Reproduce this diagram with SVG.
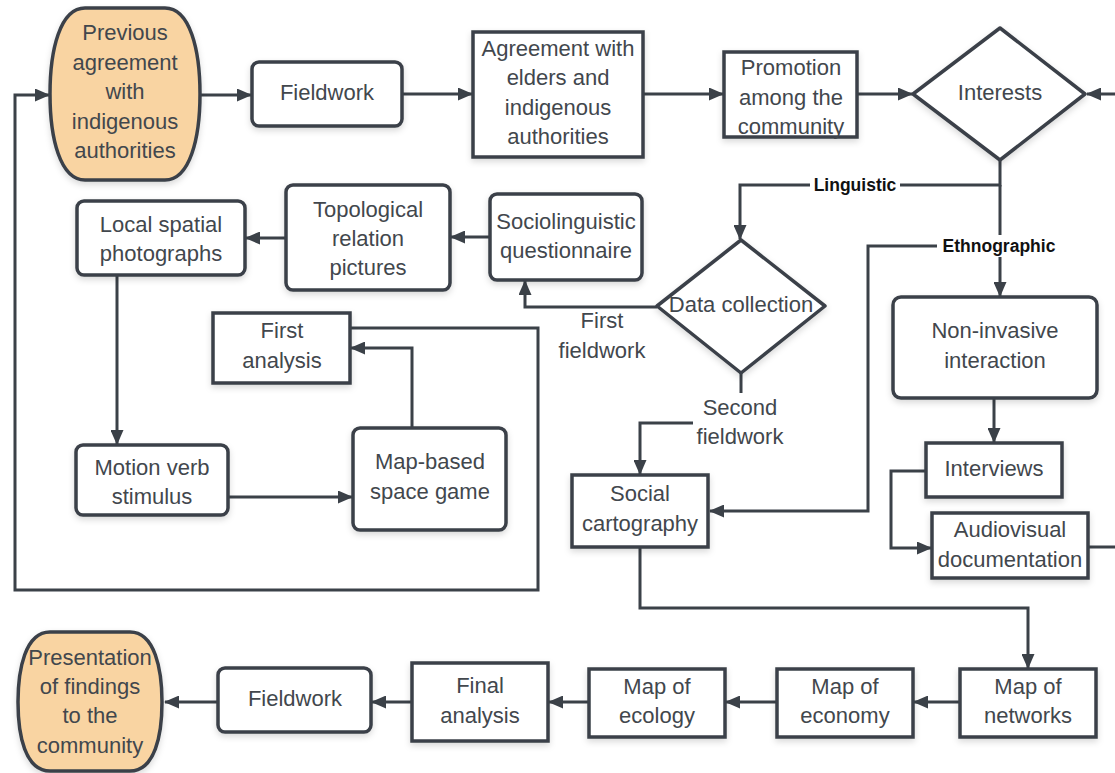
<svg xmlns="http://www.w3.org/2000/svg" width="1115" height="773" viewBox="0 0 1115 773">
<defs>
<marker id="ah" markerUnits="userSpaceOnUse" markerWidth="15" markerHeight="13" refX="14" refY="6.5" orient="auto">
<path d="M0,0 L15,6.5 L0,13 Z" fill="#3b4148"/>
</marker>
<filter id="sh" x="-10%" y="-10%" width="130%" height="140%">
<feDropShadow dx="0" dy="3" stdDeviation="3" flood-color="#000" flood-opacity="0.15"/>
</filter>
<style>
.n{fill:#fff;stroke:#3b4148;stroke-width:3.5;filter:url(#sh)}
.o{fill:#f9d4a2;stroke:#3b4148;stroke-width:3.5;filter:url(#sh)}
.t{font-family:"Liberation Sans",Arial,sans-serif;font-size:22px;fill:#42474d;text-anchor:middle}
.b{font-family:"Liberation Sans",Arial,sans-serif;font-size:17.5px;font-weight:bold;fill:#111;text-anchor:middle}
.c{fill:none;stroke:#3b4148;stroke-width:3}
.a{marker-end:url(#ah)}
</style>
</defs>
<rect width="1115" height="773" fill="#fff"/>

<g id="connectors">
<path class="c a" d="M200,95 L251,95"/>
<path class="c a" d="M402,94 L472,94"/>
<path class="c a" d="M644,94 L723,94"/>
<path class="c a" d="M858,94 L912,94"/>
<path class="c a" d="M1088,547 L1130,547 L1130,94 L1087,94"/>
<path class="c a" d="M1000,160 L1000,185 L740,185 L740,239"/>
<path class="c a" d="M1000,185 L1000,296"/>
<path class="c a" d="M1000,246 L868,246 L868,511 L710,511"/>
<path class="c a" d="M657,307 L525,307 L525,281"/>
<path class="c" d="M741,373 L741,393"/>
<path class="c a" d="M693,423 L640,423 L640,474"/>
<path class="c a" d="M490,237 L451,237"/>
<path class="c a" d="M286,238 L246,238"/>
<path class="c a" d="M117,275 L117,444"/>
<path class="c a" d="M228,497 L352,497"/>
<path class="c a" d="M412,428 L412,348 L351,348"/>
<path class="c a" d="M350,328 L538,328 L538,590 L15,590 L15,95 L49,95"/>
<path class="c a" d="M994,398 L994,442"/>
<path class="c a" d="M926,471 L891,471 L891,548 L931,548"/>
<path class="c a" d="M640,547 L640,608 L1028,608 L1028,668"/>
<path class="c a" d="M960,702 L914,702"/>
<path class="c a" d="M777,702 L726,702"/>
<path class="c a" d="M588,702 L549,702"/>
<path class="c a" d="M412,702 L372,702"/>
<path class="c a" d="M218,702 L165,702"/>
<rect x="810" y="174" width="90" height="22" fill="#fff"/>
<text class="b" x="855" y="191">Linguistic</text>
<rect x="937" y="235" width="124" height="22" fill="#fff"/>
<text class="b" x="999" y="252">Ethnographic</text>
<text class="t" x="602" y="328">First</text>
<text class="t" x="602" y="358">fieldwork</text>
<text class="t" x="740" y="415">Second</text>
<text class="t" x="740" y="444">fieldwork</text>
</g>

<g id="prev-agreement">
<path class="o" d="M85,8 L165,8 C190,8 200,50 200,94 C200,138 190,180 165,180 L85,180 C60,180 50,138 50,94 C50,50 60,8 85,8 Z"/>
<text class="t" x="125" y="40">Previous</text>
<text class="t" x="125" y="70">agreement</text>
<text class="t" x="125" y="99">with</text>
<text class="t" x="125" y="129">indigenous</text>
<text class="t" x="125" y="158">authorities</text>
</g>

<g id="fieldwork-top">
<rect class="n" x="252" y="62" width="150" height="64" rx="7"/>
<text class="t" x="327" y="100">Fieldwork</text>
</g>

<g id="agreement-elders">
<rect class="n" x="473" y="32" width="170" height="125"/>
<text class="t" x="558" y="56">Agreement with</text>
<text class="t" x="558" y="85">elders and</text>
<text class="t" x="558" y="115">indigenous</text>
<text class="t" x="558" y="144">authorities</text>
</g>

<g id="promotion">
<rect class="n" x="724" y="52" width="133" height="85"/>
<text class="t" x="791" y="75">Promotion</text>
<text class="t" x="791" y="105">among the</text>
<text class="t" x="791" y="134">community</text>
</g>

<g id="interests">
<path class="n" stroke-linejoin="round" d="M1000,28 L1085,94 L1000,160 L913,94 Z"/>
<text class="t" x="1000" y="100">Interests</text>
</g>

<g id="local-spatial">
<rect class="n" x="77" y="201" width="168" height="74" rx="7"/>
<text class="t" x="161" y="232">Local spatial</text>
<text class="t" x="161" y="261">photographs</text>
</g>

<g id="topological">
<rect class="n" x="286" y="185" width="164" height="105" rx="7"/>
<text class="t" x="368" y="217">Topological</text>
<text class="t" x="368" y="246">relation</text>
<text class="t" x="368" y="275">pictures</text>
</g>

<g id="sociolinguistic">
<rect class="n" x="490" y="194" width="152" height="86" rx="7"/>
<text class="t" x="566" y="229">Sociolinguistic</text>
<text class="t" x="566" y="258">questionnaire</text>
</g>

<g id="data-collection">
<path class="n" stroke-linejoin="round" d="M741,240 L825,306 L741,373 L657,306 Z"/>
<text class="t" x="741" y="312">Data collection</text>
</g>

<g id="first-analysis">
<rect class="n" x="213" y="313" width="137" height="70"/>
<text class="t" x="282" y="338">First</text>
<text class="t" x="282" y="368">analysis</text>
</g>

<g id="motion-verb">
<rect class="n" x="76" y="445" width="152" height="70" rx="7"/>
<text class="t" x="152" y="475">Motion verb</text>
<text class="t" x="152" y="504">stimulus</text>
</g>

<g id="map-based">
<rect class="n" x="353" y="428" width="153" height="102" rx="7"/>
<text class="t" x="430" y="469">Map-based</text>
<text class="t" x="430" y="499">space game</text>
</g>

<g id="non-invasive">
<rect class="n" x="893" y="297" width="204" height="101" rx="8"/>
<text class="t" x="995" y="338">Non-invasive</text>
<text class="t" x="995" y="368">interaction</text>
</g>

<g id="interviews">
<rect class="n" x="926" y="443" width="136" height="54"/>
<text class="t" x="994" y="476">Interviews</text>
</g>

<g id="audiovisual">
<rect class="n" x="932" y="513" width="156" height="65"/>
<text class="t" x="1010" y="537">Audiovisual</text>
<text class="t" x="1010" y="567">documentation</text>
</g>

<g id="social-cartography">
<rect class="n" x="572" y="475" width="136" height="72"/>
<text class="t" x="640" y="501">Social</text>
<text class="t" x="640" y="531">cartography</text>
</g>

<g id="map-networks">
<rect class="n" x="960" y="669" width="136" height="68"/>
<text class="t" x="1028" y="694">Map of</text>
<text class="t" x="1028" y="723">networks</text>
</g>

<g id="map-economy">
<rect class="n" x="777" y="669" width="136" height="68"/>
<text class="t" x="845" y="694">Map of</text>
<text class="t" x="845" y="723">economy</text>
</g>

<g id="map-ecology">
<rect class="n" x="589" y="669" width="136" height="68"/>
<text class="t" x="657" y="694">Map of</text>
<text class="t" x="657" y="723">ecology</text>
</g>

<g id="final-analysis">
<rect class="n" x="412" y="663" width="136" height="78"/>
<text class="t" x="480" y="693">Final</text>
<text class="t" x="480" y="723">analysis</text>
</g>

<g id="fieldwork-bottom">
<rect class="n" x="218" y="668" width="153" height="64" rx="7"/>
<text class="t" x="295" y="706">Fieldwork</text>
</g>

<g id="presentation">
<path class="o" d="M50,632 L130,632 C155,632 162,670 162,702 C162,735 155,771 130,771 L50,771 C25,771 18,735 18,702 C18,670 25,632 50,632 Z"/>
<text class="t" x="90" y="665">Presentation</text>
<text class="t" x="90" y="694">of findings</text>
<text class="t" x="90" y="723">to the</text>
<text class="t" x="90" y="753">community</text>
</g>
</svg>
